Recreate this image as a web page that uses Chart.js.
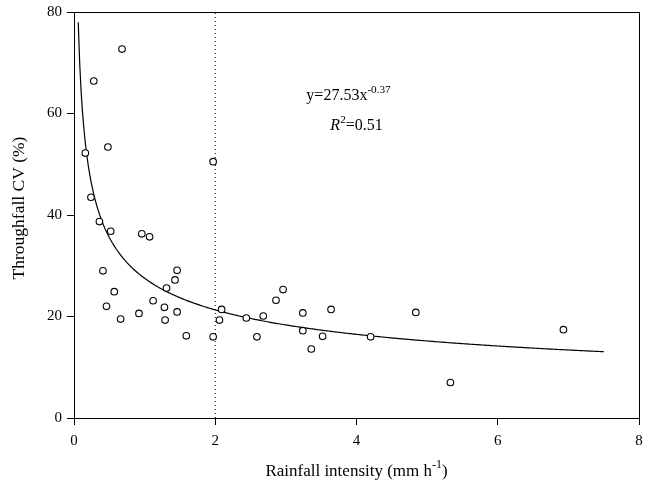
<!DOCTYPE html>
<html>
<head>
<meta charset="utf-8">
<script src="https://cdn.jsdelivr.net/npm/chart.js@4.4.0/dist/chart.umd.min.js"></script>
<style>
  html, body { margin: 0; padding: 0; background: #fff; }
</style>
</head>
<body>
<canvas id="cvChart" width="654" height="492"></canvas>
<script>
// Rainfall intensity (mm h-1) of each event
const rainIntensity = [
  0.16, 0.24, 0.28, 0.36, 0.41, 0.46, 0.48, 0.52, 0.57, 0.66,
  0.68, 0.92, 0.96, 1.07, 1.12, 1.28, 1.29, 1.31, 1.43, 1.46,
  1.46, 1.59, 1.97, 1.97, 2.06, 2.09, 2.44, 2.59, 2.68, 2.86,
  2.96, 3.24, 3.24, 3.36, 3.52, 3.64, 4.20, 4.84, 5.33, 6.93
];
// Throughfall coefficient of variation (%) of each event
const throughfallCV = [
  52.2, 43.5, 66.4, 38.7, 29.0, 22.0, 53.4, 36.8, 24.9, 19.5,
  72.7, 20.6, 36.3, 35.7, 23.1, 21.8, 19.3, 25.6, 27.2, 29.1,
  20.9, 16.2, 50.5, 16.0, 19.3, 21.4, 19.7, 16.0, 20.1, 23.2,
  25.3, 20.7, 17.2, 13.6, 16.1, 21.4, 16.0, 20.8, 7.0, 17.4
];
const xTicks = [0, 2, 4, 6, 8];
const yTicks = [0, 20, 40, 60, 80];

// power fit shown on the chart: y = a * x^b
const fitA = 27.53;
const fitB = -0.37;
const fitR2 = 0.51;
const fitFrom = 0.06;
const fitTo = 7.5;

// dotted threshold line
const thresholdX = 2;

const FONT = '"Liberation Serif", "Times New Roman", serif';

const scatterPts = rainIntensity.map((x, i) => ({ x: x, y: throughfallCV[i] }));

const fitPts = [];
for (let x = fitFrom; x <= fitTo + 1e-9; x += 0.02) {
  fitPts.push({ x: x, y: fitA * Math.pow(x, fitB) });
}

const thresholdPts = [
  { x: thresholdX, y: yTicks[0] },
  { x: thresholdX, y: yTicks[yTicks.length - 1] }
];

// draw a run of text pieces, some of them superscript / italic
function drawParts(ctx, parts, x, y, size, align) {
  const widths = parts.map(p => {
    ctx.font = (p.italic ? 'italic ' : '') + (p.sup ? size * 0.7 : size) + 'px ' + FONT;
    return ctx.measureText(p.t).width;
  });
  const total = widths.reduce((a, b) => a + b, 0);
  let cx = align === 'center' ? x - total / 2 : x;
  parts.forEach((p, i) => {
    ctx.font = (p.italic ? 'italic ' : '') + (p.sup ? size * 0.7 : size) + 'px ' + FONT;
    ctx.fillText(p.t, cx, p.sup ? y - size * 0.45 : y);
    cx += widths[i];
  });
}

const decorPlugin = {
  id: 'decor',
  afterDraw(chart) {
    const ctx = chart.ctx;
    const a = chart.chartArea;
    const xs = chart.scales.x;
    const ys = chart.scales.y;
    ctx.save();
    // top and right frame
    ctx.strokeStyle = '#000';
    ctx.lineWidth = 1;
    ctx.beginPath();
    ctx.moveTo(Math.round(a.left) + 0.5, Math.round(a.top) + 0.5);
    ctx.lineTo(Math.round(a.right) + 0.5, Math.round(a.top) + 0.5);
    ctx.lineTo(Math.round(a.right) + 0.5, Math.round(a.bottom) + 0.5);
    ctx.stroke();

    ctx.fillStyle = '#000';
    ctx.textBaseline = 'alphabetic';
    ctx.textAlign = 'left';

    // x axis title
    drawParts(ctx, [
      { t: 'Rainfall intensity (mm h' },
      { t: '-1', sup: true },
      { t: ')' }
    ], (a.left + a.right) / 2, 476, 17, 'center');

    // y axis title
    ctx.save();
    ctx.translate(24, (a.top + a.bottom) / 2 - 7);
    ctx.rotate(-Math.PI / 2);
    drawParts(ctx, [{ t: 'Throughfall CV (%)' }], 0, 0, 17.5, 'center');
    ctx.restore();

    // equation
    drawParts(ctx, [
      { t: 'y=' + fitA.toFixed(2) + 'x' },
      { t: fitB.toFixed(2), sup: true }
    ], xs.getPixelForValue(3.29), ys.getPixelForValue(62.6), 16, 'left');
    drawParts(ctx, [
      { t: 'R', italic: true },
      { t: '2', sup: true },
      { t: '=' + fitR2.toFixed(2) }
    ], xs.getPixelForValue(3.63), ys.getPixelForValue(56.8), 16, 'left');
    ctx.restore();
  }
};

new Chart(document.getElementById('cvChart'), {
  type: 'scatter',
  data: {
    datasets: [
      {
        label: 'events',
        data: scatterPts,
        showLine: false,
        pointStyle: 'circle',
        pointRadius: 3.3,
        borderWidth: 1.1,
        borderColor: '#000',
        backgroundColor: '#fff',
        order: 1
      },
      {
        label: 'fit',
        data: fitPts,
        showLine: true,
        pointRadius: 0,
        borderWidth: 1.2,
        borderColor: '#000',
        tension: 0,
        order: 2
      },
      {
        label: 'threshold',
        data: thresholdPts,
        showLine: true,
        pointRadius: 0,
        borderWidth: 1,
        borderColor: '#000',
        borderDash: [1, 3],
        order: 3
      }
    ]
  },
  options: {
    responsive: false,
    animation: false,
    layout: { padding: { top: 12, right: 15, left: 0, bottom: 0 } },
    plugins: {
      legend: { display: false },
      tooltip: { enabled: false }
    },
    scales: {
      x: {
        type: 'linear',
        min: xTicks[0],
        max: xTicks[xTicks.length - 1],
        afterBuildTicks: s => { s.ticks = xTicks.map(v => ({ value: v })); },
        afterFit: s => { s.height = 74; s.paddingLeft = 0; s.paddingRight = 0; },
        grid: { drawOnChartArea: false, color: '#000', tickLength: 7 },
        border: { color: '#000', width: 1 },
        ticks: { color: '#000', padding: 7, font: { family: FONT, size: 15 } }
      },
      y: {
        type: 'linear',
        min: yTicks[0],
        max: yTicks[yTicks.length - 1],
        afterBuildTicks: s => { s.ticks = yTicks.map(v => ({ value: v })); },
        afterFit: s => { s.width = 74; s.paddingTop = 0; s.paddingBottom = 0; },
        grid: { drawOnChartArea: false, color: '#000', tickLength: 7 },
        border: { color: '#000', width: 1 },
        ticks: { color: '#000', padding: 5, font: { family: FONT, size: 15 } }
      }
    }
  },
  plugins: [decorPlugin]
});
</script>
</body>
</html>
